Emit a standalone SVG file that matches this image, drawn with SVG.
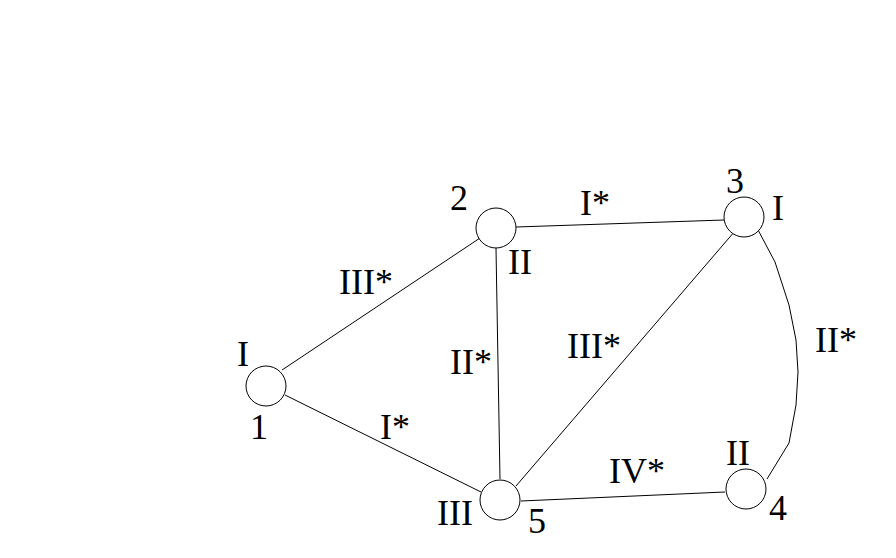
<svg xmlns="http://www.w3.org/2000/svg" width="896" height="558" viewBox="0 0 896 558">
<style>
.n{fill:#fff;stroke:#000;stroke-width:1}
.e{fill:none;stroke:#000;stroke-width:1}
text{font-family:"Liberation Serif","Times New Roman",serif;font-size:36px;fill:#000}
</style>
<rect width="896" height="558" fill="#fff"/>
<g id="connectors">
<line class="e" x1="282" y1="370" x2="480" y2="238"/>
<line class="e" x1="285" y1="395" x2="481" y2="492"/>
<line class="e" x1="496" y1="248" x2="500" y2="479"/>
<line class="e" x1="516" y1="227" x2="724" y2="220"/>
<line class="e" x1="735" y1="231" x2="516" y2="486"/>
<line class="e" x1="521" y1="501" x2="725" y2="492"/>
<polyline class="e" points="757,228 775,262 789,305 796,340 798,372 796,405 789,443 767,479"/>
</g>
<g id="node1"><circle class="n" cx="266" cy="386" r="20"/><text x="237" y="366">I</text><text x="250" y="439">1</text></g>
<g id="node2"><circle class="n" cx="496" cy="228" r="20"/><text x="450" y="210">2</text><text x="508" y="274">II</text></g>
<g id="node3"><circle class="n" cx="744" cy="217" r="20"/><text x="726" y="193">3</text><text x="772" y="220">I</text></g>
<g id="node4"><circle class="n" cx="746" cy="489" r="20"/><text x="726" y="465">II</text><text x="769" y="520">4</text></g>
<g id="node5"><circle class="n" cx="500" cy="500" r="20"/><text x="437" y="525">III</text><text x="528" y="533">5</text></g>
<g id="labels">
<text x="339" y="294">III*</text>
<text x="580" y="215">I*</text>
<text x="450" y="374">II*</text>
<text x="567" y="358">III*</text>
<text x="815" y="352">II*</text>
<text x="380" y="439">I*</text>
<text x="609" y="483">IV*</text>
</g>
</svg>
